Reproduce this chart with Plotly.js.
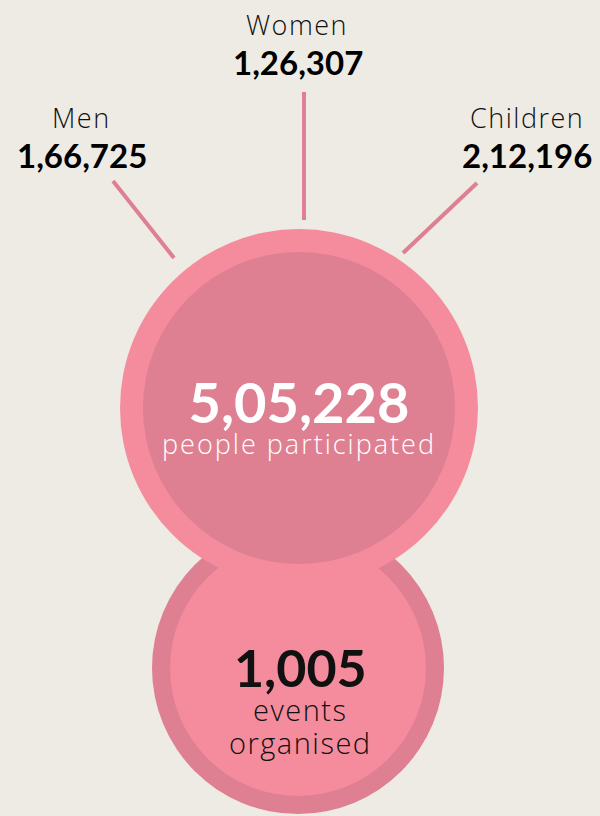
<!DOCTYPE html>
<html><head><meta charset="utf-8">
<script src="https://cdn.plot.ly/plotly-3.0.1.min.js"></script>
<style>html,body{margin:0;padding:0;background:#EEEBE4;}#chart{width:600px;height:816px;}</style>
</head><body><div id="chart"></div>
<script>
const groups = ['Men', 'Women', 'Children'];
const groupValues = [166725, 126307, 212196];
const totalParticipants = 505228;
const totalLabel = 'people participated';
const eventsCount = 1005;
const eventsLabel = ['events', 'organised'];

function indianFormat(n) {
  const s = String(n);
  if (s.length <= 3) return s;
  const last3 = s.slice(-3);
  let rest = s.slice(0, -3);
  const parts = [];
  while (rest.length > 2) { parts.unshift(rest.slice(-2)); rest = rest.slice(0, -2); }
  if (rest.length) parts.unshift(rest);
  return parts.join(',') + ',' + last3;
}
function intlFormat(n) { return n.toLocaleString('en-US'); }

const NUMFONT = 'Lato';
const TXTFONT = 'Open Sans';
const LIGHT = '#F48C9D';
const DARK = '#DE7F92';
const BG = '#EEEBE4';

const labelPos = [ {x: 81, y: 117}, {x: 297, y: 24}, {x: 527, y: 117} ];
const valuePos = [ {x: 82, y: 155}, {x: 298, y: 62}, {x: 527, y: 155} ];
const connectors = [ [113, 181, 174, 258], [304, 92, 304, 220], [477, 183, 403, 253] ];

function circle(cx, cy, r, color) {
  return {type: 'circle', xref: 'x', yref: 'y', x0: cx - r, x1: cx + r, y0: cy - r, y1: cy + r,
          fillcolor: color, line: {width: 0}, layer: 'below'};
}

const shapes = [
  circle(298, 668, 146, DARK),
  circle(298, 668, 128, LIGHT),
  circle(299, 408, 179, LIGHT),
  circle(299, 408, 156, DARK)
];
connectors.forEach(c => shapes.push({type: 'line', xref: 'x', yref: 'y', x0: c[0], y0: c[1], x1: c[2], y1: c[3],
  line: {color: DARK, width: 4}, layer: 'below'}));

const numSpan = (txt, size) => '<span style="font-family:Lato;font-weight:700;font-size:' + size + 'px">' + txt + '</span>';
const txtSpan = (txt, size, ls) => '<span style="font-size:' + size + 'px;letter-spacing:' + ls + 'px">' + txt + '</span>';

const annotations = [];
groups.forEach((g, i) => {
  annotations.push({x: labelPos[i].x, y: labelPos[i].y, xref: 'x', yref: 'y', text: txtSpan(g, 27, 1.5), showarrow: false,
    font: {family: TXTFONT, size: 27, color: '#111', weight: 300}, xanchor: 'center', yanchor: 'middle'});
  annotations.push({x: valuePos[i].x, y: valuePos[i].y, xref: 'x', yref: 'y', text: indianFormat(groupValues[i]),
    showarrow: false, font: {family: NUMFONT, size: 33, color: '#000', weight: 700}, xanchor: 'center', yanchor: 'middle'});
});
annotations.push({x: 299, y: 415, xref: 'x', yref: 'y',
  text: numSpan(indianFormat(totalParticipants), 56) + '<br>' + txtSpan(totalLabel, 27, 2),
  showarrow: false, align: 'center',
  font: {family: TXTFONT, size: 24, color: '#FFFFFF', weight: 300}, xanchor: 'center', yanchor: 'middle'});
annotations.push({x: 300, y: 699, xref: 'x', yref: 'y',
  text: numSpan(intlFormat(eventsCount), 52) + '<br>' + txtSpan(eventsLabel[0], 29, 1.5) + '<br>' + txtSpan(eventsLabel[1], 29, 1.5),
  showarrow: false, align: 'center',
  font: {family: TXTFONT, size: 25.8, color: '#111', weight: 300}, xanchor: 'center', yanchor: 'middle'});

const layout = {
  width: 600, height: 816,
  margin: {l: 0, r: 0, t: 0, b: 0},
  paper_bgcolor: BG, plot_bgcolor: BG,
  xaxis: {range: [0, 600], visible: false, fixedrange: true},
  yaxis: {range: [816, 0], visible: false, fixedrange: true},
  shapes: shapes, annotations: annotations, showlegend: false
};
Plotly.newPlot('chart', [{x: [], y: [], type: 'scatter', hoverinfo: 'skip'}], layout, {displayModeBar: false, staticPlot: true});
</script></body></html>
